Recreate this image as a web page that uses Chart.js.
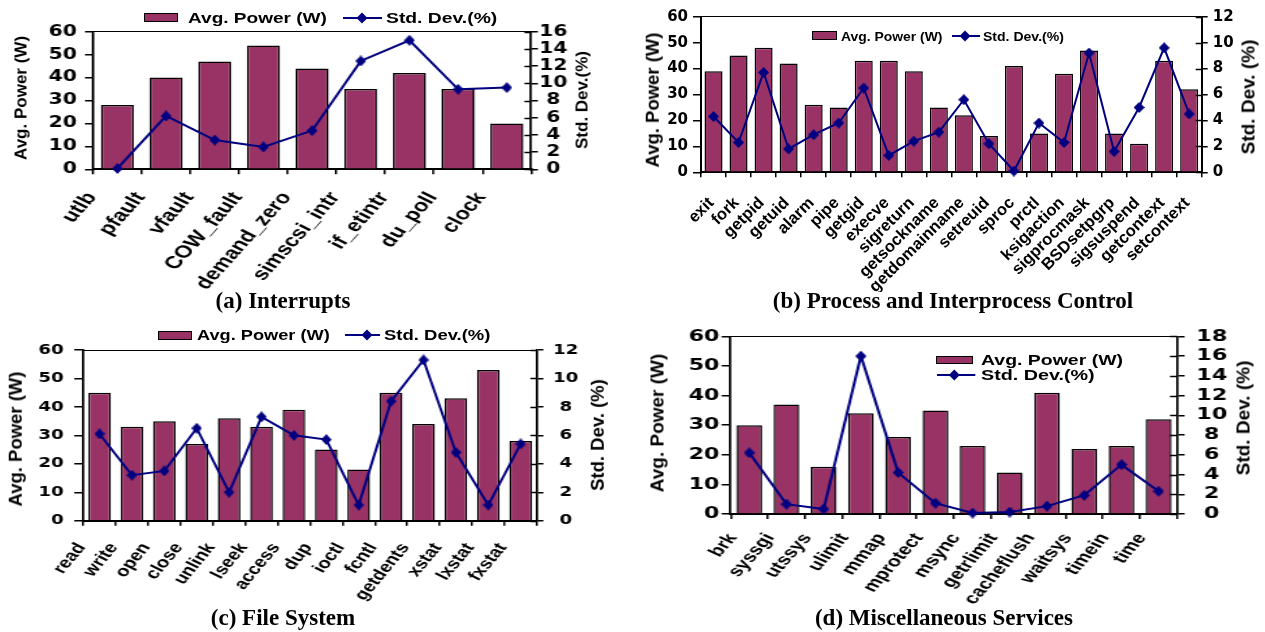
<!DOCTYPE html>
<html>
<head>
<meta charset="utf-8">
<script src="https://cdn.jsdelivr.net/npm/chart.js@4.4.1/dist/chart.umd.min.js"></script>
<style>
  html, body { margin: 0; padding: 0; background: #fff; }
  #stage { position: relative; width: 1265px; height: 632px; overflow: hidden; background: #fff;
           font-family: "Liberation Sans", Arial, sans-serif; }
  #stage canvas { position: absolute; }
  .txt { position: absolute; white-space: nowrap; font-weight: bold; color: #000; line-height: 1; }
  .cap { position: absolute; white-space: nowrap; font-family: "Liberation Serif", "Times New Roman", serif;
         font-weight: bold; font-size: 23px; line-height: 1; transform: translate(-50%, -50%); }
  .swatch { position: absolute; background: #993366; border: 1.5px solid #000; box-sizing: border-box; }
  svg.mark { position: absolute; overflow: visible; }
</style>
</head>
<body>
<div id="stage"></div>
<script>
// ---- series ----
const powerLabel = 'Avg. Power (W)';
const stdLabel = 'Std. Dev.(%)';

const interruptCats  = ['utlb', 'pfault', 'vfault', 'COW_fault', 'demand_zero', 'simscsi_intr', 'if_etintr', 'du_poll', 'clock'];
const interruptPower = [28, 40, 47, 54, 44, 35, 42, 35, 20];
const interruptStd   = [0.1, 6.2, 3.4, 2.6, 4.5, 12.6, 15.0, 9.3, 9.5];

const processCats  = ['exit', 'fork', 'getpid', 'getuid', 'alarm', 'pipe', 'getgid', 'execve', 'sigreturn', 'getsockname',
                      'getdomainname', 'setreuid', 'sproc', 'prctl', 'ksigaction', 'sigprocmask', 'BSDsetpgrp', 'sigsuspend',
                      'getcontext', 'setcontext'];
const processPower = [39, 45, 48, 42, 26, 25, 43, 43, 39, 25, 22, 14, 41, 15, 38, 47, 15, 11, 43, 32];
const processStd   = [4.3, 2.3, 7.7, 1.8, 2.9, 3.8, 6.5, 1.3, 2.4, 3.1, 5.6, 2.2, 0.1, 3.8, 2.3, 9.2, 1.6, 5.0, 9.6, 4.5];

const fileCats  = ['read', 'write', 'open', 'close', 'unlink', 'lseek', 'access', 'dup', 'ioctl', 'fcntl', 'getdents', 'xstat', 'lxstat', 'fxstat'];
const filePower = [45, 33, 35, 27, 36, 33, 39, 25, 18, 45, 34, 43, 53, 28];
const fileStd   = [6.1, 3.2, 3.5, 6.5, 2.0, 7.3, 6.0, 5.7, 1.1, 8.4, 11.3, 4.8, 1.1, 5.4];

const miscCats  = ['brk', 'syssgi', 'utssys', 'ulimit', 'mmap', 'mprotect', 'msync', 'getrlimit', 'cacheflush', 'waitsys', 'timein', 'time'];
const miscPower = [30, 37, 16, 34, 26, 35, 23, 14, 41, 22, 23, 32];
const miscStd   = [6.2, 1.0, 0.5, 16.0, 4.2, 1.1, 0.1, 0.2, 0.8, 1.9, 5.0, 2.3];

// ---- tick values ----
const powerTicks = [0, 10, 20, 30, 40, 50, 60];
const stdTicksA  = [0, 2, 4, 6, 8, 10, 12, 14, 16];
const stdTicksB  = [0, 2, 4, 6, 8, 10, 12];
const stdTicksC  = [0, 2, 4, 6, 8, 10, 12];
const stdTicksD  = [0, 2, 4, 6, 8, 10, 12, 14, 16, 18];

const BAR_FILL = '#993366';
const LINE_COLOR = '#000080';

const stage = document.getElementById('stage');

// diamond marker, pre-squeezed so the horizontally stretched canvas shows it square
function diamond(sx) {
  const c = document.createElement('canvas');
  const h = 11, w = Math.max(5, Math.round(h / sx));
  c.width = w; c.height = h;
  const g = c.getContext('2d');
  g.fillStyle = LINE_COLOR;
  g.beginPath();
  g.moveTo(w / 2, 0); g.lineTo(w, h / 2); g.lineTo(w / 2, h); g.lineTo(0, h / 2);
  g.closePath(); g.fill();
  return c;
}

// short inward ticks on the right axis (outer half comes from the scale's own tick marks)
const innerTicks = {
  id: 'innerTicks',
  afterDraw(chart, args, opts) {
    const s = chart.scales.y1, ctx = chart.ctx;
    ctx.save();
    ctx.strokeStyle = '#000';
    ctx.lineWidth = opts.width || 1.5;
    ctx.beginPath();
    s.ticks.forEach(t => {
      const y = Math.round(s.getPixelForValue(t.value)) + 0.5;
      ctx.moveTo(s.left - opts.len, y);
      ctx.lineTo(s.left, y);
    });
    ctx.stroke();
    ctx.restore();
  }
};

const fixedTicks = values => s => { s.ticks = values.map(v => ({ value: v })); };

function makePanel(p) {
  const sx = p.box.sx;
  const wInt = Math.round(p.box.w / sx);
  const cv = document.createElement('canvas');
  cv.width = wInt; cv.height = p.box.h;
  cv.style.left = p.box.left + 'px';
  cv.style.top = p.box.top + 'px';
  cv.style.width = p.box.w + 'px';
  cv.style.height = p.box.h + 'px';
  stage.appendChild(cv);

  const leftW = (p.area.L - p.box.left) / sx;
  const rightW = wInt - (p.area.R - p.box.left) / sx;
  const topPad = p.area.T - p.box.top;
  const xH = p.box.h - (p.area.B - p.box.top);

  const tickFont = { family: '"DejaVu Sans", sans-serif', weight: 'bold', size: p.yFont, lineHeight: 1 };
  const catFont = { family: '"Liberation Sans", Arial, sans-serif', weight: 'bold', size: p.xFont };

  return new Chart(cv, {
    type: 'bar',
    data: {
      labels: p.cats,
      datasets: [
        {
          type: 'line', label: stdLabel, data: p.std, yAxisID: 'y1',
          borderColor: LINE_COLOR, borderWidth: 2, fill: false, tension: 0,
          pointStyle: diamond(sx), pointRadius: 5, clip: false, order: 0
        },
        {
          type: 'bar', label: powerLabel, data: p.power, yAxisID: 'y',
          backgroundColor: BAR_FILL, borderColor: '#000', borderWidth: 1.5,
          barPercentage: p.barPct, categoryPercentage: 1, order: 1
        }
      ]
    },
    options: {
      responsive: false, animation: false, devicePixelRatio: 1,
      layout: { padding: { top: topPad, left: 0, right: 0, bottom: 0 } },
      plugins: { legend: { display: false }, tooltip: { enabled: false }, innerTicks: { len: p.rTick, width: 1.5 } },
      scales: {
        x: {
          type: 'category', offset: true,
          grid: { offset: true, drawOnChartArea: false, drawTicks: true, tickLength: 5, color: '#000', lineWidth: 1.5 },
          border: { display: true, color: '#000', width: 2 },
          ticks: { autoSkip: false, minRotation: p.rot, maxRotation: p.rot, labelOffset: p.xOffset,
                   padding: p.xPad, font: catFont, color: '#000' },
          afterFit: s => { s.height = xH; }
        },
        xTop: {
          type: 'category', position: 'top', offset: true,
          grid: { display: false }, ticks: { display: false },
          border: { display: true, color: '#000', width: 1 },
          afterFit: s => { s.height = 0; }
        },
        y: {
          position: 'left', min: powerTicks[0], max: powerTicks[powerTicks.length - 1],
          afterBuildTicks: fixedTicks(powerTicks),
          ticks: { autoSkip: false, font: tickFont, color: '#000', padding: p.yPad },
          grid: { drawOnChartArea: false, drawTicks: true, tickLength: p.lTick, color: '#000', lineWidth: 1.5 },
          border: { display: true, color: '#000', width: 2 / Math.sqrt(sx) },
          afterFit: s => { s.width = leftW; }
        },
        y1: {
          position: 'right', min: p.stdTicks[0], max: p.stdTicks[p.stdTicks.length - 1],
          afterBuildTicks: fixedTicks(p.stdTicks),
          ticks: { autoSkip: false, font: tickFont, color: '#000', padding: p.y1Pad, crossAlign: p.y1Align || 'near' },
          grid: { drawOnChartArea: false, drawTicks: true, tickLength: p.rTick, color: '#000', lineWidth: 1.5 },
          border: { display: true, color: '#000', width: 2 / Math.sqrt(sx) },
          afterFit: s => { s.width = rightW; }
        }
      }
    },
    plugins: [innerTicks]
  });
}

// ---- text helpers ----
function addText(text, x, y, size, k) {
  const d = document.createElement('div');
  d.className = 'txt';
  d.textContent = text;
  d.style.left = x + 'px';
  d.style.top = y + 'px';
  d.style.fontSize = size + 'px';
  d.style.transformOrigin = '0 50%';
  d.style.transform = 'translateY(-50%) scaleX(' + k + ')';
  stage.appendChild(d);
  return d;
}
function addVTitle(text, cx, cy, size) {
  const d = document.createElement('div');
  d.className = 'txt';
  d.textContent = text;
  d.style.left = cx + 'px';
  d.style.top = cy + 'px';
  d.style.fontSize = size + 'px';
  d.style.transform = 'translate(-50%, -50%) rotate(-90deg)';
  stage.appendChild(d);
}
function addCaption(text, cx, cy) {
  const d = document.createElement('div');
  d.className = 'cap';
  d.textContent = text;
  d.style.left = cx + 'px';
  d.style.top = cy + 'px';
  stage.appendChild(d);
}
function addSwatch(x, y, w, h) {
  const d = document.createElement('div');
  d.className = 'swatch';
  Object.assign(d.style, { left: x + 'px', top: y + 'px', width: w + 'px', height: h + 'px' });
  stage.appendChild(d);
}
function addLineMark(x1, x2, y, cx) {
  const ns = 'http://www.w3.org/2000/svg';
  const svg = document.createElementNS(ns, 'svg');
  svg.setAttribute('class', 'mark');
  svg.setAttribute('width', x2 - x1);
  svg.setAttribute('height', 12);
  svg.style.left = x1 + 'px';
  svg.style.top = (y - 6) + 'px';
  const ln = document.createElementNS(ns, 'line');
  ln.setAttribute('x1', 0); ln.setAttribute('x2', x2 - x1);
  ln.setAttribute('y1', 6); ln.setAttribute('y2', 6);
  ln.setAttribute('stroke', LINE_COLOR); ln.setAttribute('stroke-width', 2);
  svg.appendChild(ln);
  const c = cx - x1;
  const pg = document.createElementNS(ns, 'polygon');
  pg.setAttribute('points', `${c},0.5 ${c + 5.5},6 ${c},11.5 ${c - 5.5},6`);
  pg.setAttribute('fill', LINE_COLOR);
  svg.appendChild(pg);
  stage.appendChild(svg);
}

// ---- (a) Interrupts ----
makePanel({
  cats: interruptCats, power: interruptPower, std: interruptStd, stdTicks: stdTicksA,
  box: { left: 0, top: 0, w: 632, h: 292, sx: 1.35 },
  area: { L: 93, R: 531, T: 31.7, B: 169.3 },
  barPct: 0.68, rot: 56, xFont: 17.5, xOffset: -19, xPad: 14,
  yFont: 15, yPad: 6, lTick: 6, y1Pad: 1, rTick: 5, y1Align: 'center'
});
addSwatch(144, 12.5, 34, 9.5);
addText(powerLabel, 188, 17.5, 14, 1.36);
addLineMark(343, 382, 17.5, 362);
addText(stdLabel, 386, 17.5, 14, 1.38);
addVTitle(powerLabel, 20.5, 98, 17);
addVTitle(stdLabel, 582, 100, 17);
addCaption('(a) Interrupts', 283, 300);

// ---- (b) Process and Interprocess Control ----
makePanel({
  cats: processCats, power: processPower, std: processStd, stdTicks: stdTicksB,
  box: { left: 640, top: 0, w: 625, h: 292, sx: 1 },
  area: { L: 701, R: 1201.7, T: 16.7, B: 172.3 },
  barPct: 0.72, rot: 45, xFont: 16.5, xOffset: -2, xPad: 16,
  yFont: 15, yPad: 5, lTick: 8, y1Pad: 5, rTick: 6
});
addSwatch(812, 30.7, 25, 9.3);
addText(powerLabel, 841, 35.5, 13, 1.07);
addLineMark(952, 980, 35.5, 965);
addText(stdLabel, 983, 35.5, 13, 1.08);
addVTitle(powerLabel, 652.5, 100, 18.5);
addVTitle('Std. Dev. (%)', 1248, 96.5, 19);
addCaption('(b) Process and Interprocess Control', 953, 300);

// ---- (c) File System ----
makePanel({
  cats: fileCats, power: filePower, std: fileStd, stdTicks: stdTicksC,
  box: { left: 0, top: 320, w: 632, h: 300, sx: 1.3 },
  area: { L: 83.3, R: 536.7, T: 350, B: 520.7 },
  barPct: 0.70, rot: 57, xFont: 15.5, xOffset: -14, xPad: 14,
  yFont: 14, yPad: 8, lTick: 7, y1Pad: 7.5, rTick: 5, y1Align: 'center'
});
addSwatch(158, 331, 34, 8.5);
addText(powerLabel, 197, 335, 14, 1.30);
addLineMark(345, 380, 335, 367);
addText(stdLabel, 384, 335, 14, 1.32);
addVTitle(powerLabel, 15.7, 438.5, 18.5);
addVTitle('Std. Dev. (%)', 598, 435, 18.5);
addCaption('(c) File System', 283, 617);

// ---- (d) Miscellaneous Services ----
makePanel({
  cats: miscCats, power: miscPower, std: miscStd, stdTicks: stdTicksD,
  box: { left: 640, top: 320, w: 625, h: 300, sx: 1.39 },
  area: { L: 730.7, R: 1177.7, T: 334, B: 514 },
  barPct: 0.69, rot: 57, xFont: 15.5, xOffset: -12, xPad: 11,
  yFont: 16, yPad: 1.5, lTick: 6.5, y1Pad: 8.4, rTick: 5.3, y1Align: 'center'
});
addSwatch(935.7, 355.7, 37, 8.6);
addText(powerLabel, 980.7, 360, 14, 1.39);
addLineMark(936.7, 975, 375, 954);
addText(stdLabel, 980.7, 375, 14, 1.41);
addVTitle(powerLabel, 657, 422.5, 19);
addVTitle('Std. Dev. (%)', 1243, 418, 19);
addCaption('(d) Miscellaneous Services', 944, 617);
</script>
</body>
</html>
